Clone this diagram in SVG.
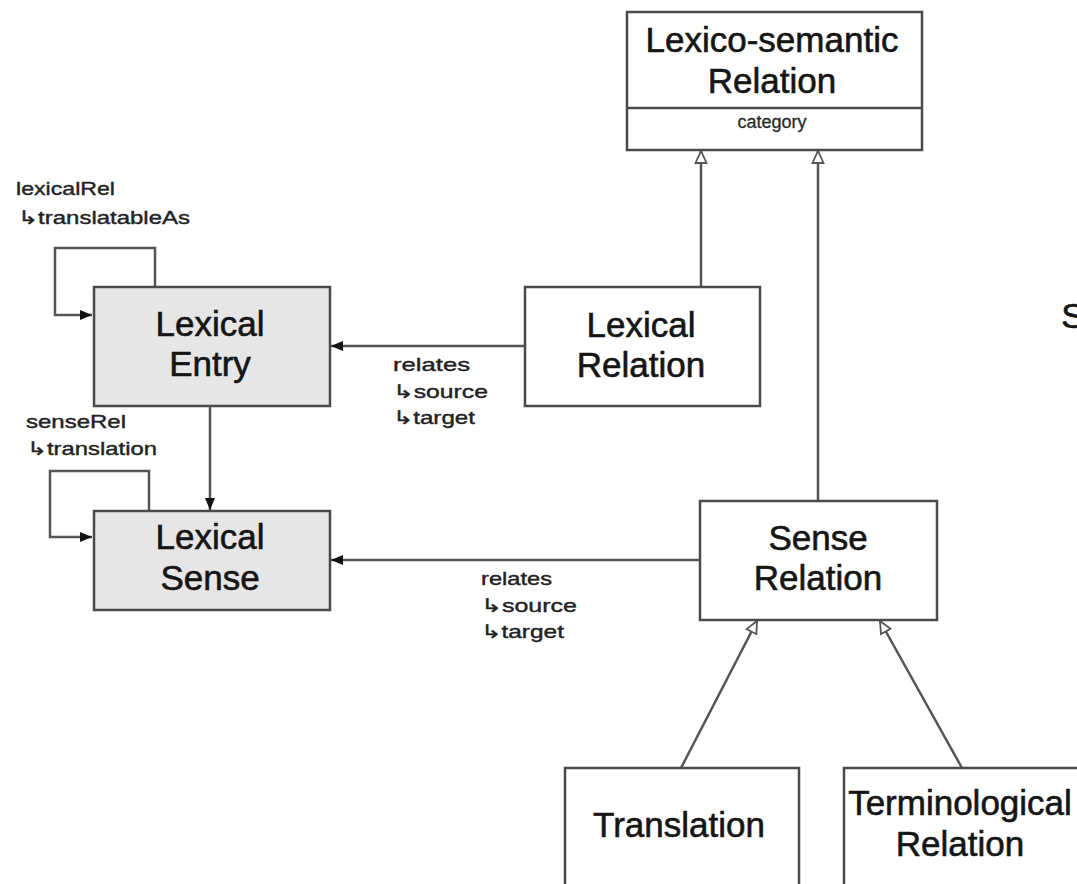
<svg xmlns="http://www.w3.org/2000/svg" width="1077" height="884" viewBox="0 0 1077 884">
  <style>
    .box { fill: #ffffff; stroke: #4a4a4a; stroke-width: 2.5; }
    .shaded { fill: #e6e6e6; }
    .title { font-family: "Liberation Sans", Arial, sans-serif; font-size: 35px; fill: #151515; stroke: #151515; stroke-width: 0.6; text-anchor: middle; }
    .attr { font-family: "Liberation Sans", Arial, sans-serif; font-size: 18px; fill: #2a2a2a; stroke: #2a2a2a; stroke-width: 0.3; text-anchor: middle; }
    .lbl { font-family: "Liberation Sans", "DejaVu Sans", Arial, sans-serif; font-size: 19px; fill: #222222; stroke: #222222; stroke-width: 0.4; }
    .edge { fill: none; stroke: #555555; stroke-width: 2.5; }
    .assoc { marker-end: url(#filled); }
    .gen { marker-end: url(#hollow); }
  </style>
  <defs>
    <marker id="filled" viewBox="0 0 12 12" refX="12" refY="6" markerWidth="12" markerHeight="12" markerUnits="userSpaceOnUse" orient="auto">
      <path d="M0,1 L12,6 L0,11 Z" fill="#111111"/>
    </marker>
    <marker id="hollow" viewBox="0 0 14 14" refX="13" refY="7" markerWidth="14" markerHeight="14" markerUnits="userSpaceOnUse" orient="auto">
      <path d="M1,1.5 L13,7 L1,12.5 Z" fill="#ffffff" stroke="#555555" stroke-width="1.8"/>
    </marker>
  </defs>

  <rect width="1077" height="884" fill="#ffffff"/>

  <g id="connectors">
    <!-- generalisations -->
    <path class="edge gen" d="M701,287 L701,151"/>
    <path class="edge gen" d="M818,501 L818,151"/>
    <path class="edge gen" d="M681,768 L757,621"/>
    <path class="edge gen" d="M962,768 L880,621"/>
    <!-- associations -->
    <path class="edge assoc" d="M525,346 L331,346"/>
    <path class="edge assoc" d="M700,560 L331,560"/>
    <path class="edge assoc" d="M210,406 L210,510"/>
    <!-- self loops -->
    <path class="edge assoc" d="M155,287 L155,248 L55,248 L55,315 L92,315"/>
    <path class="edge assoc" d="M149,511 L149,471 L50,471 L50,537 L92,537"/>
  </g>

  <g id="lexico-semantic-relation">
    <rect class="box" x="627" y="12" width="295" height="138"/>
    <line x1="627" y1="108" x2="922" y2="108" stroke="#4a4a4a" stroke-width="2.5"/>
    <text class="title" x="772" y="52" font-size="34">Lexico-semantic</text>
    <text class="title" x="772" y="93" font-size="34">Relation</text>
    <text class="attr" x="772" y="128">category</text>
  </g>

  <g id="lexical-entry">
    <rect class="box shaded" x="94" y="287" width="236" height="119"/>
    <text class="title" x="210" y="336">Lexical</text>
    <text class="title" x="210" y="376">Entry</text>
  </g>

  <g id="lexical-sense">
    <rect class="box shaded" x="94" y="511" width="236" height="99"/>
    <text class="title" x="210" y="549">Lexical</text>
    <text class="title" x="210" y="590">Sense</text>
  </g>

  <g id="lexical-relation">
    <rect class="box" x="525" y="287" width="235" height="119"/>
    <text class="title" x="641" y="337">Lexical</text>
    <text class="title" x="641" y="377">Relation</text>
  </g>

  <g id="sense-relation">
    <rect class="box" x="700" y="501" width="237" height="119"/>
    <text class="title" x="818" y="550">Sense</text>
    <text class="title" x="818" y="590">Relation</text>
  </g>

  <g id="translation">
    <rect class="box" x="565" y="768" width="234" height="130"/>
    <text class="title" x="679" y="837">Translation</text>
  </g>

  <g id="terminological-relation">
    <rect class="box" x="844" y="768" width="250" height="130"/>
    <text class="title" x="960" y="815">Terminological</text>
    <text class="title" x="960" y="856">Relation</text>
  </g>

  <g id="labels">
    <text class="lbl" x="16" y="195" textLength="99" lengthAdjust="spacingAndGlyphs">lexicalRel</text>
    <text class="lbl" x="18" y="224" textLength="172" lengthAdjust="spacingAndGlyphs">↳translatableAs</text>
    <text class="lbl" x="26" y="428" textLength="100" lengthAdjust="spacingAndGlyphs">senseRel</text>
    <text class="lbl" x="27" y="455" textLength="130" lengthAdjust="spacingAndGlyphs">↳translation</text>
    <text class="lbl" x="393" y="371" textLength="77" lengthAdjust="spacingAndGlyphs">relates</text>
    <text class="lbl" x="393" y="398" textLength="95" lengthAdjust="spacingAndGlyphs">↳source</text>
    <text class="lbl" x="393" y="424" textLength="82" lengthAdjust="spacingAndGlyphs">↳target</text>
    <text class="lbl" x="481" y="585" textLength="71" lengthAdjust="spacingAndGlyphs">relates</text>
    <text class="lbl" x="481" y="612" textLength="96" lengthAdjust="spacingAndGlyphs">↳source</text>
    <text class="lbl" x="481" y="638" textLength="83" lengthAdjust="spacingAndGlyphs">↳target</text>
  </g>

  <!-- letter of a neighbouring label, cut by the right edge -->
  <text class="title" x="1073" y="328" text-anchor="start">S</text>
</svg>
